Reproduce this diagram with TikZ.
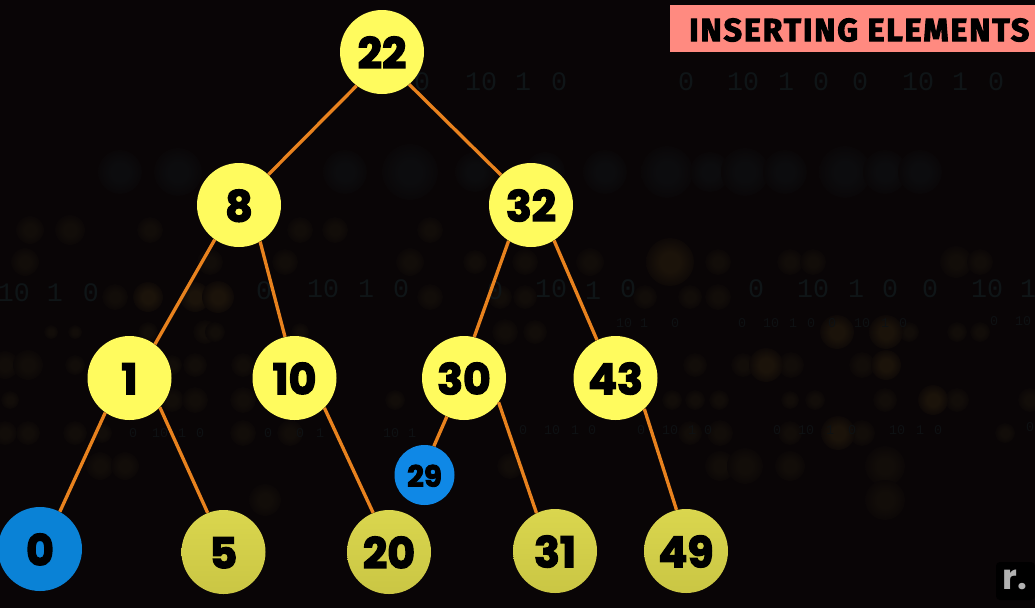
\documentclass[tikz,border=0pt]{standalone}
\usepackage{fontspec}
\setmainfont{Poppins}
\newfontfamily\numfont[BoldFeatures={FakeBold=3}]{Poppins}
\newfontfamily\logofont{Poppins}
\newfontfamily\titlefont[BoldFeatures={FakeBold=3.2},LetterSpace=6]{Fira Sans}
\newfontfamily\bgfont{Liberation Mono}
\definecolor{bgc}{HTML}{090506}
\definecolor{edgec}{HTML}{E8821E}
\definecolor{titlec}{HTML}{FF8A80}
\definecolor{digc}{HTML}{0F1517}
\definecolor{digd}{HTML}{0E1113}
\definecolor{dota}{HTML}{1B130A}
\definecolor{dotb}{HTML}{120D09}
\definecolor{dotc}{HTML}{0C0C0E}
\definecolor{FFFB5E}{HTML}{FFFB5E}
\definecolor{DAD64E}{HTML}{DAD64E}
\definecolor{C6C240}{HTML}{CAC644}
\definecolor{bluec}{HTML}{0A82D6}
\definecolor{bluea}{HTML}{0F88E6}
\pgfdeclareradialshading{softa}{\pgfpointorigin}{color(0bp)=(dota);color(10bp)=(dota);color(30bp)=(bgc);color(50bp)=(bgc)}
\pgfdeclareradialshading{softb}{\pgfpointorigin}{color(0bp)=(dotb);color(10bp)=(dotb);color(30bp)=(bgc);color(50bp)=(bgc)}
\pgfdeclareradialshading{softc}{\pgfpointorigin}{color(0bp)=(dotc);color(10bp)=(dotc);color(30bp)=(bgc);color(50bp)=(bgc)}
\tikzset{
  x=0.75pt,y=-0.75pt,
  treenode/.style={circle,minimum size=63pt,inner sep=0pt,text=black,text height=24.5pt,text depth=0pt,
    font=\numfont\bfseries\fontsize{32}{32}\selectfont},
  brightnode/.style={treenode,fill=FFFB5E},
  dimnode/.style={treenode,top color=DAD64E,bottom color=C6C240},
  bluenode/.style={treenode,fill=bluec},
  smallnode/.style={bluenode,minimum size=45pt,text height=17.5pt,font=\numfont\bfseries\fontsize{22}{22}\selectfont,fill=bluea},
  link/.style={draw=edgec,line width=2.5pt},
  bgdig/.style={text=digc,font=\bgfont\fontsize{20}{20}\selectfont,inner sep=0pt},
  bgsmall/.style={text=digd,font=\bgfont\fontsize{10}{10}\selectfont,inner sep=0pt},
}
\begin{document}
\begin{tikzpicture}
\useasboundingbox (0,0) rectangle (1035,608);
\fill[bgc] (0,0) rectangle (1035,608);
% faint background dots
\foreach \px/\py/\pr in {
 667/172/26,710/172/20,745/172/24,785/172/22,845/172/26,885/172/22,920/172/22,
 120/172/22,178/172/24,345/172/22,410/172/28,475/172/20,545/172/20,605/172/22}
  {\shade[shading=softc] (\px,\py) circle[radius=\pr];}
\foreach \px/\py/\pr in {
 718/262/13,790/262/13,813/262/13,956/262/16,980/262/13,
 30/230/14,70/230/15,150/230/13,300/230/13,335/230/13,430/230/13,
 25/262/14,210/262/13,285/262/13,410/262/14,475/262/12,525/262/13,590/262/14,
 645/297/12,718/297/13,690/297/12,
 115/297/13,430/297/13,500/297/12,525/297/12,
 51/332/7,75/332/7,148/332/10,205/332/12,215/332/10,300/332/9,
 505/332/13,535/332/12,909/332/10,957/332/10,980/332/10,
 5/365/14,28/365/15,75/365/10,172/365/10,195/365/12,243/365/12,
 695/365/12,743/365/12,791/365/13,862/365/13,
 10/400/9,172/400/12,195/400/13,243/400/13,395/400/10,
 672/400/10,695/400/10,719/400/10,790/400/9,815/400/10,885/400/12,957/400/12,1030/400/12,
 5/433/12,28/433/12,75/433/12,102/433/10,243/433/13,290/433/13,
 690/433/12,720/433/13,790/433/12,862/433/13,1005/433/10,
 720/466/15,745/466/18,790/466/15,885/466/20,100/466/14,125/466/14,510/466/13,
 265/500/16,885/500/20}
  {\shade[shading=softb] (\px,\py) circle[radius=\pr];}
\foreach \px/\py/\pr in {148/297/15,195/297/15,218/297/16,670/262/24,838/433/17,886/332/17,837/332/17,766/365/17,886/365/15,933/400/15}
  {\shade[shading=softa] (\px,\py) circle[radius=\pr];}
% faint background digits
\foreach \px/\py/\t in {
 422/82/0,481/82/10,523/82/1,559/82/0,
 686/82/0,743/82/10,786/82/1,821/82/0,860/82/0,918/82/10,960/82/1,996/82/0,
 14/293/10,55/293/1,91/293/0,
 264/291/0,323/289/10,366/289/1,401/289/0,
 495/291/0,551/289/10,593/291/1,628/289/0,
 756/289/0,813/289/10,856/289/1,890/289/0,930/289/0,987/289/10,1028/289/1}
  {\node[bgdig] at (\px,\py) {\t};}
\foreach \px/\py/\t in {
 632/323/10 1,675/323/0,742/323/0,771/323/10,793/323/1,811/323/0,832/323/0,862/323/10,885/323/1,903/323/0,994/321/0,1023/321/10,
 133/433/0,160/433/10,182/433/1,200/433/0,268/433/0,300/433/0,320/433/1,
 391/433/10,412/433/1,523/430/0,552/430/10,575/430/1,592/430/0,
 641/430/0,670/430/10,692/430/1,708/430/0,777/430/0,806/430/10,830/430/1,852/430/0,897/430/10,920/430/1,938/430/0,1030/427/0}
  {\node[bgsmall] at (\px,\py) {\t};}
% title
\fill[titlec] (669.5,4.5) rectangle (1035,52);
\node[anchor=west,inner sep=0pt,text=black] (title) at (689,30)
  {\resizebox{255pt}{!}{\titlefont\bfseries\fontsize{28}{28}\selectfont INSERTING ELEMENTS}};
% tree nodes
\node[brightnode] (n22) at (382,52) {22};
\node[brightnode] (n8) at (239,205) {8};
\node[brightnode] (n32) at (531,205) {32};
\node[brightnode] (n1) at (129.5,378) {1};
\node[brightnode] (n10) at (294.5,378) {10};
\node[brightnode] (n30) at (464,378) {30};
\node[brightnode] (n43) at (615.5,378) {43};
\node[bluenode] (n0) at (40,549) {0};
\node[dimnode] (n5) at (223.5,552) {5};
\node[dimnode] (n20) at (389,552) {20};
\node[dimnode] (n31) at (555,551) {31};
\node[dimnode] (n49) at (686,551) {49};
\node[smallnode] (n29) at (424.5,475) {29};
% connectors
\draw[link] (n22.233) -- (n8.46);
\draw[link] (n22.-50) -- (n32.135);
\draw[link] (n8.235.6) -- (n1.53);
\draw[link] (n8.-60) -- (n10.103);
\draw[link] (n32.238.6) -- (n30.76);
\draw[link] (n32.-57) -- (n43.116.6);
\draw[link] (n1.235) -- (n0.62);
\draw[link] (n1.-44.5) -- (n5.112);
\draw[link] (n10.-45) -- (n20.112);
\draw[link] (n30.246.4) -- (n29.72);
\draw[link] (n30.-35) -- (n31.116.5);
\draw[link] (n43.-47) -- (n49.103);
% corner logo
\fill[black,rounded corners=3pt] (996,562) rectangle (1035,600);
\node[inner sep=0pt,text=black!30,font=\logofont\fontsize{26}{26}\selectfont\bfseries] (logo) at (1015,580) {r.};
\end{tikzpicture}
\end{document}
